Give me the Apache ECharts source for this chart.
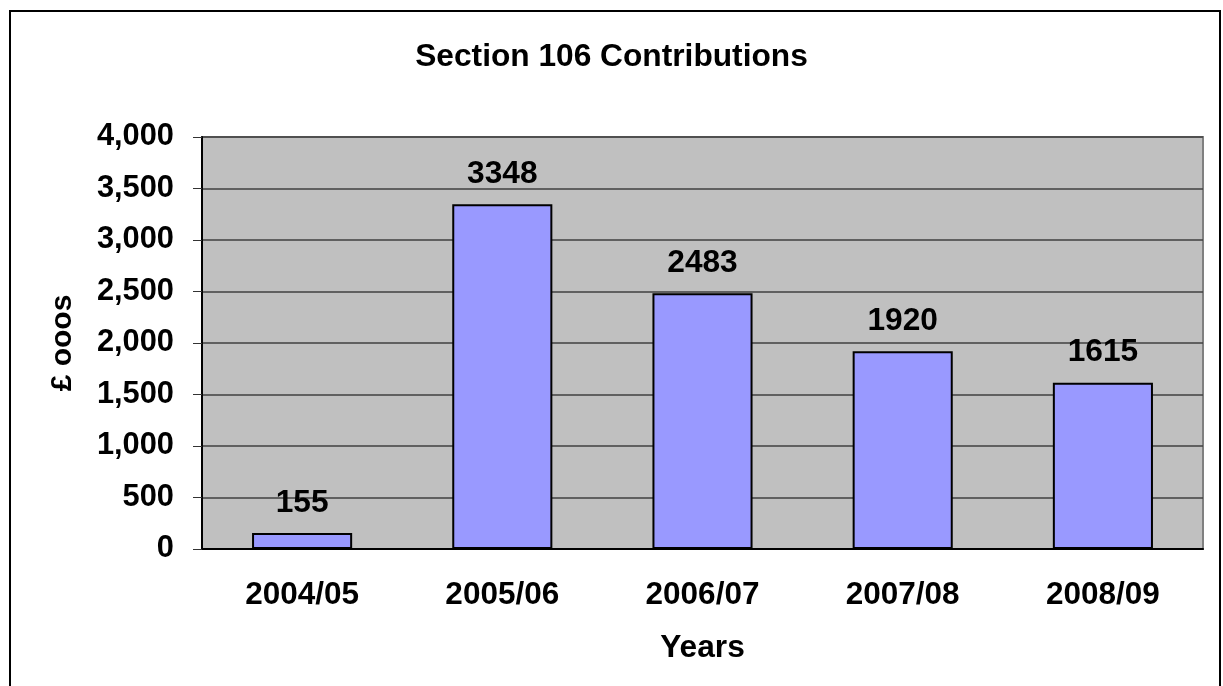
<!DOCTYPE html>
<html>
<head>
<meta charset="utf-8">
<title>Section 106 Contributions</title>
<script src="https://cdn.jsdelivr.net/npm/echarts@6/dist/echarts.min.js"></script>
<style>
  html, body { margin: 0; padding: 0; background: #fff; }
  #chart { width: 1223px; height: 686px; }
</style>
</head>
<body>
<div id="chart"></div>
<script>
// 数据
const years = ['2004/05', '2005/06', '2006/07', '2007/08', '2008/09']
const contributions = [155, 3348, 2483, 1920, 1615]
const yTicks = [0, 500, 1000, 1500, 2000, 2500, 3000, 3500, 4000]

const font = 'Liberation Sans, Arial, sans-serif'
const myChart = echarts.init(document.getElementById('chart'))

const option = {
  backgroundColor: '#fff',
  animation: false,
  title: {
    text: 'Section 106 Contributions',
    left: 'center',
    top: 36,
    textStyle: { fontFamily: font, fontWeight: 'bold', fontSize: 31.7, color: '#000' }
  },
  grid: {
    left: 202,
    right: 20,
    top: 137,
    bottom: 137,
    show: true,
    backgroundColor: '#c0c0c0',
    borderColor: '#808080',
    borderWidth: 2
  },
  // 外框
  graphic: [
    {
      type: 'rect',
      shape: { x: 10, y: 11, width: 1210, height: 700 },
      style: { fill: 'none', stroke: '#000', lineWidth: 2 },
      silent: true
    }
  ],
  xAxis: {
    type: 'category',
    data: years,
    name: 'Years',
    nameLocation: 'middle',
    nameGap: 83,
    nameTextStyle: { fontFamily: font, fontWeight: 'bold', fontSize: 31.7, color: '#000' },
    axisLine: { lineStyle: { color: '#000', width: 2 } },
    axisTick: { length: 8, lineStyle: { color: '#333' } },
    axisLabel: { margin: 30, fontFamily: font, fontWeight: 'bold', fontSize: 31.5, color: '#000' }
  },
  yAxis: {
    type: 'value',
    min: yTicks[0],
    max: yTicks[yTicks.length - 1],
    interval: 500,
    name: '£ ooos',
    nameLocation: 'middle',
    nameGap: 124,
    nameTextStyle: { fontFamily: font, fontWeight: 'bold', fontSize: 30, color: '#000' },
    axisLine: { show: true, lineStyle: { color: '#000', width: 2 } },
    axisTick: { show: true, length: 9, lineStyle: { color: '#333' } },
    axisLabel: {
      margin: 28,
      fontFamily: font,
      fontWeight: 'bold',
      fontSize: 30.8,
      color: '#000',
      formatter: v => v.toLocaleString('en-GB')
    },
    splitLine: { lineStyle: { color: '#404040', width: 1.5 } }
  },
  series: [
    {
      type: 'bar',
      data: contributions,
      barWidth: '50%',
      itemStyle: { color: '#9999ff', borderColor: '#000', borderWidth: 2 },
      label: {
        show: true,
        position: 'top',
        distance: 14,
        fontFamily: font,
        fontWeight: 'bold',
        fontSize: 31.7,
        color: '#000'
      }
    }
  ]
}

myChart.setOption(option)
</script>
</body>
</html>
